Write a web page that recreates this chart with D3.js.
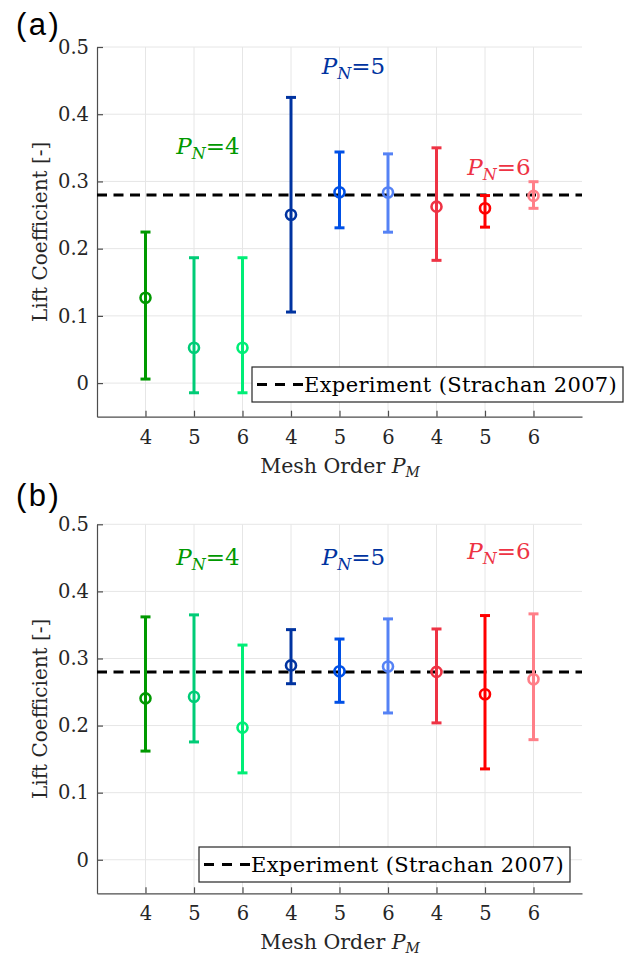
<!DOCTYPE html>
<html><head><meta charset="utf-8">
<script src="https://cdn.jsdelivr.net/npm/d3@7"></script>
<style>body{margin:0;background:#fff}svg{display:block}</style>
</head><body>
<svg id="c" width="634" height="958"></svg>
<script>
// ---- data ----
const positions = [1,2,3,4,5,6,7,8,9];
const tickLabels = ["4","5","6","4","5","6","4","5","6"];
const colors = ["#009900","#00cc77","#00ee77","#0033a0","#0050e6","#5582f5","#ee3344","#ff0000","#ff7f88"];
// panel (a)
const aMean = [0.127,0.0525,0.0525,0.2505,0.284,0.2835,0.2625,0.260,0.2785];
const aLow  = [0.006,-0.0144,-0.0144,0.1057,0.231,0.2245,0.1826,0.2320,0.2600];
const aHigh = [0.2247,0.1865,0.1865,0.425,0.3438,0.3410,0.350,0.2790,0.2996];
// panel (b)
const bMean = [0.2406,0.243,0.197,0.2897,0.281,0.288,0.280,0.2466,0.269];
const bLow  = [0.162,0.1756,0.1295,0.2624,0.2347,0.2188,0.204,0.1354,0.179];
const bHigh = [0.362,0.365,0.320,0.343,0.329,0.359,0.344,0.364,0.3665];
const experiment = 0.28;
const yTicks = [0,0.1,0.2,0.3,0.4,0.5];
const groupLabels = ["4","5","6"];
const groupColors = ["#009900","#0033a0","#ee3344"];
const aLabelPos = [[2.29,0.341],[5.29,0.46],[8.29,0.31]];
const bLabelPos = [[2.29,0.44],[5.29,0.439],[8.29,0.449]];

const svg = d3.select("#c");
const SERIF = "'DejaVu Serif', serif";

function panel(opt){
  const x = d3.scaleLinear().domain([0,10]).range([97,582]);
  const y = d3.scaleLinear().domain([-0.05,0.5]).range([opt.bottom, opt.top]);
  const g = svg.append("g");
  // grid
  g.selectAll(".gx").data(positions).enter().append("line")
    .attr("x1",d=>x(d)).attr("x2",d=>x(d)).attr("y1",y(-0.05)).attr("y2",y(0.5))
    .attr("stroke","#e6e6e6").attr("stroke-width",1);
  g.selectAll(".gy").data(yTicks).enter().append("line")
    .attr("x1",x(0)).attr("x2",x(10)).attr("y1",d=>y(d)).attr("y2",d=>y(d))
    .attr("stroke","#e6e6e6").attr("stroke-width",1);
  // axes
  const xa = d3.axisBottom(x).tickValues(positions).tickFormat((d,i)=>tickLabels[i]).tickSizeInner(-6).tickSizeOuter(0).tickPadding(13);
  const ya = d3.axisLeft(y).tickValues(yTicks).tickFormat(d=>d===0?"0":d3.format(".1f")(d)).tickSizeInner(-6).tickSizeOuter(0).tickPadding(8);
  const gx = g.append("g").attr("transform",`translate(0,${y(-0.05)})`).call(xa);
  const gy = g.append("g").attr("transform",`translate(${x(0)},0)`).call(ya);
  [gx,gy].forEach(a=>{
    a.select(".domain").attr("stroke","#4d4d4d").attr("stroke-width",1.2);
    a.selectAll(".tick line").attr("stroke","#4d4d4d").attr("stroke-width",1.2);
    a.selectAll(".tick text").attr("fill","#262626").style("font-family",SERIF).style("font-size","19.5px");
  });
  // experiment line
  g.append("line").attr("x1",x(0)).attr("x2",x(10)).attr("y1",y(experiment)).attr("y2",y(experiment))
    .attr("stroke","#000").attr("stroke-width",3).attr("stroke-dasharray","10,6.5");
  // error bars
  const eb = g.selectAll(".eb").data(positions).enter().append("g");
  eb.append("line").attr("x1",d=>x(d)).attr("x2",d=>x(d))
    .attr("y1",(d,i)=>y(opt.low[i])).attr("y2",(d,i)=>y(opt.high[i]))
    .attr("stroke",(d,i)=>colors[i]).attr("stroke-width",3);
  ["low","high"].forEach(k=>{
    eb.append("line").attr("x1",d=>x(d)-5).attr("x2",d=>x(d)+5)
      .attr("y1",(d,i)=>y(opt[k][i])).attr("y2",(d,i)=>y(opt[k][i]))
      .attr("stroke",(d,i)=>colors[i]).attr("stroke-width",3);
  });
  eb.append("circle").attr("cx",d=>x(d)).attr("cy",(d,i)=>y(opt.mean[i])).attr("r",5)
    .attr("fill","none").attr("stroke",(d,i)=>colors[i]).attr("stroke-width",2.6);
  // group labels
  opt.labels.forEach((p,i)=>{
    const t = g.append("text").attr("x",x(p[0])).attr("y",y(p[1])).attr("text-anchor","middle")
      .attr("fill",groupColors[i]).style("font-family",SERIF).style("font-size","23px");
    t.append("tspan").text("P").style("font-style","italic");
    t.append("tspan").text("N").style("font-style","italic").style("font-size","16px").attr("dy",5);
    t.append("tspan").text("=" + groupLabels[i]).attr("dy",-5);
  });
  // legend
  const lg = g.append("g");
  lg.append("rect").attr("x",opt.leg[0]).attr("y",opt.leg[1]).attr("width",opt.leg[2]).attr("height",35)
    .attr("fill","#fff").attr("stroke","#262626").attr("stroke-width",1.2);
  lg.append("line").attr("x1",opt.leg[0]+5).attr("x2",opt.leg[0]+51).attr("y1",opt.leg[1]+17.5).attr("y2",opt.leg[1]+17.5)
    .attr("stroke","#000").attr("stroke-width",3).attr("stroke-dasharray","10,8");
  lg.append("text").attr("x",opt.leg[0]+52).attr("y",opt.leg[1]+25).text("Experiment (Strachan 2007)")
    .attr("fill","#000").style("font-family",SERIF).style("font-size","21px").style("letter-spacing","0.35px");
  // axis titles
  g.append("text").attr("transform",`translate(47,${(opt.top+opt.bottom)/2}) rotate(-90)`).attr("text-anchor","middle")
    .attr("fill","#262626").style("font-family",SERIF).style("font-size","20px").text("Lift Coefficient [-]");
  const xl = g.append("text").attr("x",340).attr("y",opt.bottom+56).attr("text-anchor","middle")
    .attr("fill","#262626").style("font-family",SERIF).style("font-size","20.5px");
  xl.append("tspan").text("Mesh Order ");
  xl.append("tspan").text("P").style("font-style","italic");
  xl.append("tspan").text("M").style("font-style","italic").style("font-size","14px").attr("dy",4);
  // panel letter
  svg.append("text").attr("x",16).attr("y",opt.letterY).text(opt.letter)
    .style("font-family","'Liberation Sans', Arial, sans-serif").style("font-size","31px").style("letter-spacing","2.5px").attr("fill","#000");
}

panel({top:47,bottom:416.7,mean:aMean,low:aLow,high:aHigh,labels:aLabelPos,leg:[252,367,371],letter:"(a)",letterY:35});
panel({top:524.3,bottom:893.3,mean:bMean,low:bLow,high:bHigh,labels:bLabelPos,leg:[199,847,371],letter:"(b)",letterY:506});
</script>
</body></html>
